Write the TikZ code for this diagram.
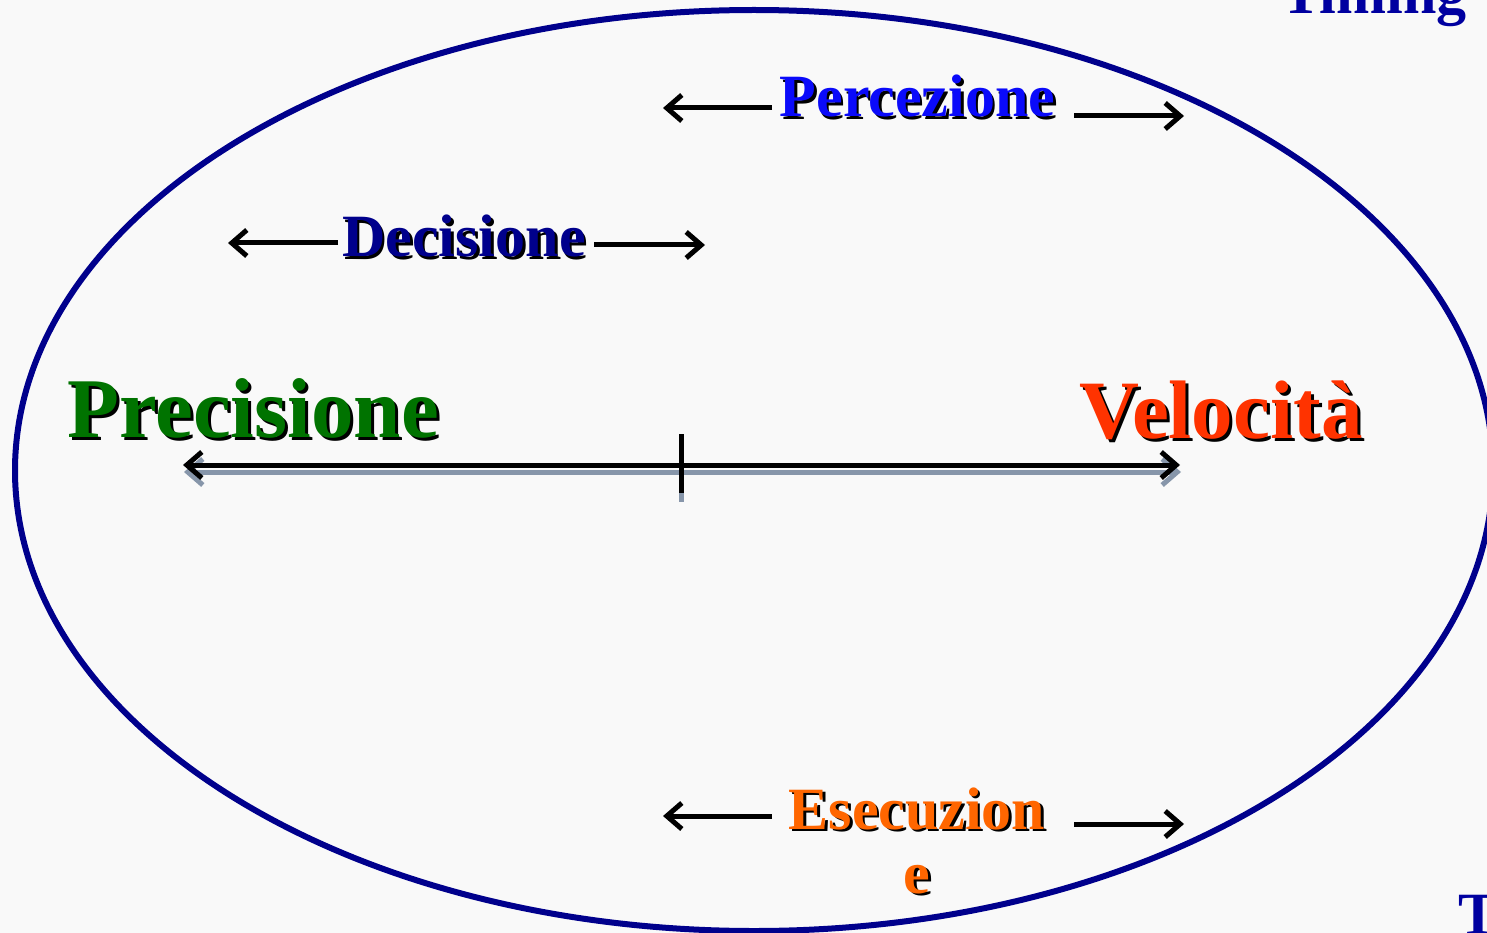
\documentclass[tikz,border=0pt]{standalone}
\usepackage{fontspec}
\setmainfont{Liberation Serif}
\usetikzlibrary{arrows.meta}
\definecolor{bgc}{RGB}{249,249,249}
\definecolor{ellc}{RGB}{0,0,140}
\definecolor{percc}{RGB}{10,10,250}
\definecolor{decc}{RGB}{0,0,140}
\definecolor{precc}{RGB}{0,115,0}
\definecolor{velc}{RGB}{255,51,0}
\definecolor{esec}{RGB}{255,102,0}
\definecolor{timc}{RGB}{0,0,160}
\definecolor{shgrey}{RGB}{135,150,170}
\tikzset{
  lbl/.style={anchor=base, inner sep=0pt, outer sep=0pt},
  lblw/.style={anchor=base west, inner sep=0pt, outer sep=0pt},
  fprec/.style={font=\bfseries\fontsize{85}{98}\selectfont},
  fvel/.style={font=\bfseries\fontsize{83}{96}\selectfont},
  fmid/.style={font=\bfseries\fontsize{60}{70}\selectfont},
  txtshadow/.style={text=black},
  sidearrow/.style={line width=5pt, -{Straight Barb[length=15pt,width=26pt]}},
  mainarrow/.style={line width=5pt, {Straight Barb[length=15pt,width=26pt]}-{Straight Barb[length=15pt,width=26pt]}},
  ticksty/.style={line width=5pt}
}
\begin{document}
\begin{tikzpicture}[x=1pt,y=-1pt]
\fill[bgc] (0,0) rectangle (1487,933);
\useasboundingbox (0,0) rectangle (1487,933);
\clip (0,0) rectangle (1487,933);

% big ellipse
\draw[ellc, line width=6pt] (754,470.5) ellipse [x radius=739pt, y radius=460.5pt];

% main axis: shadow then black
\coordinate (mLs) at (184,472);
\coordinate (mRs) at (1181,472);
\coordinate (tTs) at (681,440);
\coordinate (tBs) at (681,502);
\draw[shgrey, mainarrow] (mLs) -- (mRs);
\draw[shgrey, ticksty] (tTs) -- (tBs);
\coordinate (mL) at (183,465);
\coordinate (mR) at (1180,465);
\coordinate (tT) at (681,434);
\coordinate (tB) at (681,493);
\draw[black, mainarrow] (mL) -- (mR);
\draw[black, ticksty] (tT) -- (tB);

% Percezione
\node[lbl, fmid, txtshadow] (percS) at (920,120) {Percezione};
\node[lbl, fmid, text=percc] (perc) at (917.5,117) {Percezione};
\coordinate (pLa) at (772,108);
\coordinate (pLb) at (663,108);
\coordinate (pRa) at (1074,116);
\coordinate (pRb) at (1184,116);
\draw[sidearrow] (pLa) -- (pLb);
\draw[sidearrow] (pRa) -- (pRb);

% Decisione
\node[lbl, fmid, txtshadow] (decS) at (466.5,259.5) {Decisione};
\node[lbl, fmid, text=decc] (dec) at (464,257) {Decisione};
\coordinate (dLa) at (338,243);
\coordinate (dLb) at (228,243);
\coordinate (dRa) at (594,245);
\coordinate (dRb) at (705,245);
\draw[sidearrow] (dLa) -- (dLb);
\draw[sidearrow] (dRa) -- (dRb);

% Precisione
\node[lbl, fprec, txtshadow] (precS) at (256,440) {Precisione};
\node[lbl, fprec, text=precc] (prec) at (253,437) {Precisione};

% Velocita
\node[lbl, fvel, txtshadow] (velS) at (1224,441) {Velocità};
\node[lbl, fvel, text=velc] (vel) at (1221,438) {Velocità};

% Esecuzione
\node[lbl, fmid, txtshadow] (eseS) at (919.5,831.5) {Esecuzion};
\node[lbl, fmid, text=esec] (ese) at (917,829) {Esecuzion};
\node[lbl, fmid, txtshadow] (ese2S) at (919.5,895.5) {e};
\node[lbl, fmid, text=esec] (ese2) at (917,893) {e};
\coordinate (eLa) at (772,816);
\coordinate (eLb) at (663,816);
\coordinate (eRa) at (1074,824);
\coordinate (eRb) at (1184,824);
\draw[sidearrow] (eLa) -- (eLb);
\draw[sidearrow] (eRa) -- (eRb);

% cut-off texts at the right edge
\node[lblw, fmid, text=timc] (timing) at (1281,14) {Timing};
\node[lblw, fmid, text=timc] (tcut) at (1458,934) {T};
\end{tikzpicture}
\end{document}
